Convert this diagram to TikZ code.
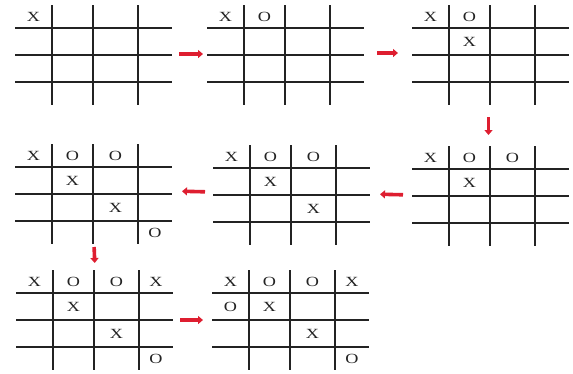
\documentclass[tikz,border=0pt]{standalone}
\usepackage{fontspec}
\usepackage{graphicx}
\setmainfont{Liberation Serif}
\usetikzlibrary{arrows.meta}
\definecolor{arrowred}{RGB}{222,30,48}
\definecolor{gridcol}{RGB}{35,35,35}
\tikzset{
  gridbox/.style={rectangle,minimum width=157pt,minimum height=100pt,inner sep=0pt,outer sep=0pt},
  gridline/.style={draw=gridcol,line width=1.7pt},
  mk/.style={inner sep=0pt,font=\fontsize{14}{14}\selectfont,text=gridcol},
  movearrow/.style={draw=arrowred,line width=3.6pt,-{Triangle[length=5pt,width=8pt]}},
}
\expandafter\def\csname tcc1\endcsname{18.5}
\expandafter\def\csname tcc2\endcsname{57.5}
\expandafter\def\csname tcc3\endcsname{100.5}
\expandafter\def\csname tcc4\endcsname{140}
\expandafter\def\csname tcr1\endcsname{11.5}
\expandafter\def\csname tcr2\endcsname{36.5}
\expandafter\def\csname tcr3\endcsname{63.5}
\expandafter\def\csname tcr4\endcsname{88.5}
\newcommand\tttgrid[3]{%
  \node[gridbox] (#1) at (#2+78.5,#3+50) {};
  \begin{scope}[shift={(#2,#3)}]
    \draw[gridline] (37,0) -- (37,100) (78,0) -- (78,100) (123,0) -- (123,100)
      (0,23) -- (157,23) (0,50) -- (157,50) (0,77) -- (157,77);
  \end{scope}}
\newcommand\tttmark[4]{\node[mk] (#1#2#3) at ([shift={(\csname tcc#2\endcsname,\csname tcr#3\endcsname)}]#1.north west) {\scalebox{1.3}[1]{#4}};}
\begin{document}
\begin{tikzpicture}[x=1pt,y=-1pt]
\useasboundingbox[fill=white] (0,0) rectangle (573,373);
% grids
\tttgrid{A}{15}{5}
\tttgrid{B}{207}{5}
\tttgrid{C}{412}{5}
\tttgrid{D}{412}{146}
\tttgrid{E}{213}{145}
\tttgrid{F}{15}{144}
\tttgrid{G}{16}{270}
\tttgrid{H}{212}{270}
% marks
\tttmark{A}{1}{1}{X}
\tttmark{B}{1}{1}{X}\tttmark{B}{2}{1}{O}
\tttmark{C}{1}{1}{X}\tttmark{C}{2}{1}{O}\tttmark{C}{2}{2}{X}
\tttmark{D}{1}{1}{X}\tttmark{D}{2}{1}{O}\tttmark{D}{3}{1}{O}\tttmark{D}{2}{2}{X}
\tttmark{E}{1}{1}{X}\tttmark{E}{2}{1}{O}\tttmark{E}{3}{1}{O}\tttmark{E}{2}{2}{X}\tttmark{E}{3}{3}{X}
\tttmark{F}{1}{1}{X}\tttmark{F}{2}{1}{O}\tttmark{F}{3}{1}{O}\tttmark{F}{2}{2}{X}\tttmark{F}{3}{3}{X}\tttmark{F}{4}{4}{O}
\tttmark{G}{1}{1}{X}\tttmark{G}{2}{1}{O}\tttmark{G}{3}{1}{O}\tttmark{G}{4}{1}{X}\tttmark{G}{2}{2}{X}\tttmark{G}{3}{3}{X}\tttmark{G}{4}{4}{O}
\tttmark{H}{1}{1}{X}\tttmark{H}{2}{1}{O}\tttmark{H}{3}{1}{O}\tttmark{H}{4}{1}{X}\tttmark{H}{1}{2}{O}\tttmark{H}{2}{2}{X}\tttmark{H}{3}{3}{X}\tttmark{H}{4}{4}{O}
% arrows
\draw[movearrow,shorten <=7pt,shorten >=4pt] ([yshift=1pt]A.east) -- ([yshift=1pt]B.west);
\draw[movearrow,shorten <=13pt,shorten >=14pt] ([yshift=2pt]B.east) -- ([yshift=2pt]C.west);
\draw[movearrow,shorten <=12pt,shorten >=11pt] ([xshift=-2pt]C.south) -- ([xshift=-2pt]D.north);
\draw[movearrow,shorten <=9pt,shorten >=10pt] ([yshift=1pt]D.west) -- ([yshift=1pt]E.east);
\draw[movearrow,shorten <=8pt,shorten >=10pt] ([yshift=3pt]E.west) -- ([yshift=3pt]F.east);
\draw[movearrow,shorten <=3pt,shorten >=7pt] ([xshift=0.5pt]F.south) -- ([xshift=0.5pt]G.north);
\draw[movearrow,shorten <=7pt,shorten >=9pt] (G.east) -- (H.west);
\end{tikzpicture}
\end{document}
